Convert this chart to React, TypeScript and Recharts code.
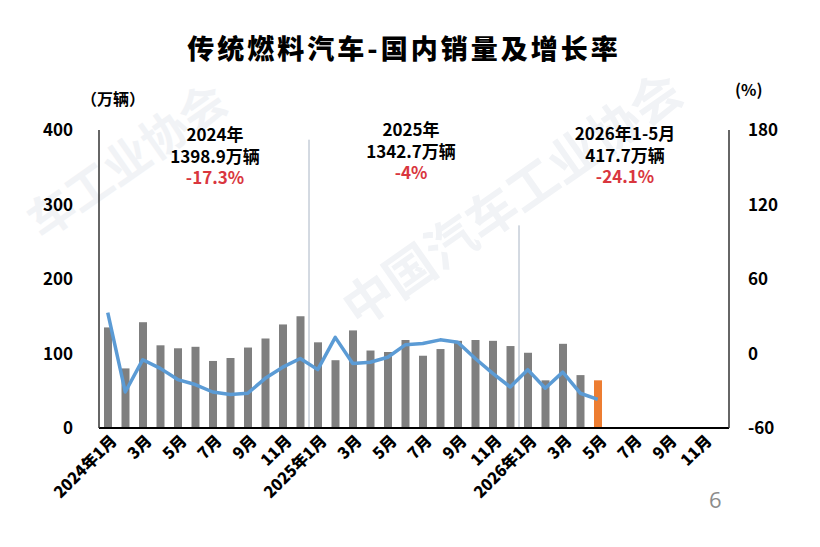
import React from 'react';
import { ComposedChart, Bar, Line, XAxis, YAxis, Cell, ReferenceLine } from 'recharts';

const years = ['2024', '2025', '2026'];
const monthNums = [1, 2, 3, 4, 5, 6, 7, 8, 9, 10, 11, 12];

// 万辆
const sales = [
  135, 80, 142, 111, 107, 109, 90, 94, 108, 120, 139, 150,
  115, 91, 131, 104, 102, 118, 97, 106, 117, 118, 117, 110,
  101, 64, 113, 71, 64,
];

// 同比增长率 %
const growth = [
  33, -31, -5, -12, -21, -25, -31, -33, -32, -20, -11, -4,
  -13, 13, -8, -7, -3, 7, 8, 11, 9, -4, -16, -27,
  -13, -28, -15, -32, -37,
];

const leftTicks = [0, 100, 200, 300, 400];
const rightTicks = [-60, 0, 60, 120, 180];

const notes = [
  { year: '2024年', total: '1398.9万辆', rate: '-17.3%', x: 215, y: 135 },
  { year: '2025年', total: '1342.7万辆', rate: '-4%', x: 411, y: 130 },
  { year: '2026年1-5月', total: '417.7万辆', rate: '-24.1%', x: 625, y: 134 },
];

const categories = years.flatMap((y) => monthNums.map((m) => `${y}年${m}月`));

const data = categories.map((c, i) => ({
  month: c,
  sales: i < sales.length ? sales[i] : null,
  growth: i < growth.length ? growth[i] : null,
}));

const FONT = '"Noto Sans CJK SC", "Noto Sans", sans-serif';

const MonthTick = (props: any) => {
  const { x, y, payload } = props;
  const v: string = payload.value;
  const label = v.endsWith('年1月') ? v : v.slice(5);
  return (
    <g transform={`translate(${x + 6},${y + 2}) rotate(-45)`}>
      <text textAnchor="end" dy="0.35em" fontSize={16} fontWeight={900} fill="#000" fontFamily={FONT}>
        {label}
      </text>
    </g>
  );
};

const tickStyle = { fontSize: 17, fontWeight: 700, fill: '#000', fontFamily: FONT };

export default function App() {
  return (
    <div style={{ position: 'absolute', left: 0, top: 0, width: 820, height: 547, background: '#fff', fontFamily: FONT, overflow: 'hidden' }}>
      {/* watermark */}
      <div style={{ position: 'absolute', left: 310, top: 160, transform: 'rotate(-35deg)', color: '#f1f3f6', fontSize: 50, fontWeight: 700, whiteSpace: 'nowrap' }}>
        中国汽车工业协会
      </div>
      <div style={{ position: 'absolute', left: 10, top: 125, transform: 'rotate(-35deg)', color: '#f1f3f6', fontSize: 46, fontWeight: 700, whiteSpace: 'nowrap' }}>
        车工业协会
      </div>

      <div style={{ position: 'absolute', left: 0, top: 30, width: 808, textAlign: 'center', fontSize: 27, fontWeight: 900, letterSpacing: 3, color: '#000', lineHeight: '36px' }}>
        传统燃料汽车-国内销量及增长率
      </div>
      <div style={{ position: 'absolute', left: 81, top: 86, fontSize: 16, fontWeight: 700, color: '#000' }}>（万辆）</div>
      <div style={{ position: 'absolute', left: 735, top: 77, fontSize: 16, fontWeight: 700, color: '#000' }}>(%)</div>

      <ComposedChart
        width={820}
        height={547}
        data={data}
        margin={{ top: 130, right: 40, bottom: 59, left: 39 }}
        style={{ position: 'absolute', left: 0, top: 0 }}
      >
        <XAxis
          dataKey="month"
          interval={1}
          height={60}
          tickLine={false}
          tickSize={0}
          tickMargin={8}
          axisLine={{ stroke: '#000', strokeWidth: 2 }}
          tick={<MonthTick />}
        />
        <YAxis
          yAxisId="left"
          domain={[0, 400]}
          ticks={leftTicks}
          width={60}
          tickLine={false}
          tickMargin={20}
          axisLine={{ stroke: '#333', strokeWidth: 1.5 }}
          tick={tickStyle}
        />
        <YAxis
          yAxisId="right"
          orientation="right"
          domain={[-60, 180]}
          ticks={rightTicks}
          width={51}
          tickLine={false}
          tickMargin={13}
          axisLine={{ stroke: '#333', strokeWidth: 1.5 }}
          tick={{ ...tickStyle, textAnchor: 'start' }}
        />
        <ReferenceLine
          yAxisId="left"
          position="start"
          segment={[{ x: '2025年1月', y: 0 }, { x: '2025年1月', y: 387 }]}
          stroke="#a8b4c4"
          strokeWidth={1}
        />
        <ReferenceLine
          yAxisId="left"
          position="start"
          segment={[{ x: '2026年1月', y: 0 }, { x: '2026年1月', y: 272 }]}
          stroke="#a8b4c4"
          strokeWidth={1}
        />
        <Bar yAxisId="left" dataKey="sales" barSize={8} isAnimationActive={false}>
          {data.map((d, i) => (
            <Cell key={d.month} fill={i === sales.length - 1 ? '#ED7D31' : '#7F7F7F'} />
          ))}
        </Bar>
        <Line
          yAxisId="right"
          dataKey="growth"
          stroke="#5B9BD5"
          strokeWidth={3.5}
          strokeLinejoin="round"
          dot={false}
          isAnimationActive={false}
        />
      </ComposedChart>

      {notes.map((n) => (
        <div key={n.year} style={{ position: 'absolute', left: n.x - 80, top: n.y - 12, width: 160, textAlign: 'center', fontSize: 17, fontWeight: 700, lineHeight: '21.5px' }}>
          <div style={{ color: '#000' }}>{n.year}</div>
          <div style={{ color: '#000' }}>{n.total}</div>
          <div style={{ color: '#D9363E' }}>{n.rate}</div>
        </div>
      ))}

      <div style={{ position: 'absolute', left: 709, top: 484, fontSize: 22, color: '#8c8c8c', fontFamily: '"Open Sans", sans-serif' }}>6</div>
    </div>
  );
}
